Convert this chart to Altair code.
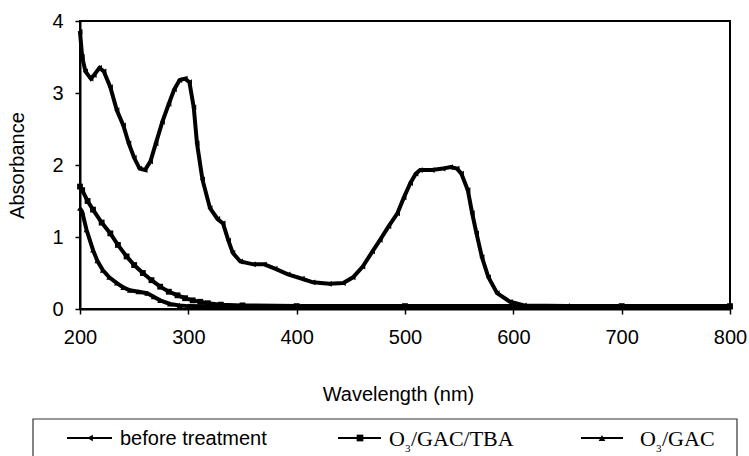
import altair as alt
import pandas as pd

# ---- data ----
wl_before = [200, 202, 205, 210, 213, 218, 222, 228, 234, 240, 245, 250, 255, 260, 265,
             270, 276, 282, 287, 292, 297, 301, 305, 308, 313, 320, 327, 332, 337, 341,
             348, 360, 370, 380, 392, 405, 415, 430, 443, 452, 461, 470, 477, 485, 493,
             499, 505, 510, 514, 525, 535, 542, 548, 552, 558, 562, 566, 571, 577, 585,
             597, 610, 650, 700, 750, 800]
abs_before = [3.85, 3.5, 3.3, 3.2, 3.25, 3.35, 3.3, 3.08, 2.76, 2.55, 2.3, 2.1, 1.95, 1.93, 2.05,
              2.3, 2.6, 2.85, 3.05, 3.18, 3.2, 3.15, 2.8, 2.3, 1.8, 1.4, 1.25, 1.19, 0.95, 0.78,
              0.66, 0.62, 0.62, 0.56, 0.48, 0.42, 0.37, 0.35, 0.36, 0.44, 0.59, 0.8, 0.96, 1.15, 1.33,
              1.55, 1.75, 1.88, 1.93, 1.93, 1.95, 1.97, 1.95, 1.88, 1.65, 1.33, 1.05, 0.72, 0.44, 0.22,
              0.1, 0.05, 0.04, 0.03, 0.03, 0.03]

wl_tba = [200, 202, 207, 212, 220, 228, 235, 243, 250, 258, 266, 274, 282, 290, 297, 304,
          311, 318, 330, 350, 400, 500, 600, 700, 800]
abs_tba = [1.7, 1.65, 1.5, 1.38, 1.2, 1.05, 0.89, 0.73, 0.61, 0.5, 0.4, 0.31, 0.24, 0.19, 0.15,
           0.12, 0.1, 0.08, 0.06, 0.05, 0.04, 0.04, 0.04, 0.04, 0.04]

wl_gac = [200, 202, 206, 212, 216, 221, 227, 234, 240, 246, 254, 262, 268, 274, 283, 292,
          300, 350, 400, 500, 600, 700, 800]
abs_gac = [1.4, 1.35, 1.1, 0.82, 0.67, 0.54, 0.44, 0.36, 0.3, 0.26, 0.24, 0.22, 0.17, 0.12,
           0.07, 0.05, 0.04, 0.03, 0.03, 0.03, 0.03, 0.03, 0.03]

series_names = ["before treatment", "O3/GAC/TBA", "O3/GAC"]
series_shapes = ["triangle-left", "square", "triangle-up"]
x_ticks = [200, 300, 400, 500, 600, 700, 800]
y_ticks = [0, 1, 2, 3, 4]

rows = []
for name, xs, ys in zip(series_names, [wl_before, wl_tba, wl_gac], [abs_before, abs_tba, abs_gac]):
    for xv, yv in zip(xs, ys):
        rows.append({"series": name, "wl": xv, "abs": yv})
df = pd.DataFrame(rows)

SANS = "Liberation Sans"
SERIF = "Liberation Serif"

x_enc = alt.X("wl:Q", scale=alt.Scale(domain=[200, 800], nice=False),
              axis=alt.Axis(values=x_ticks, format="d", title="Wavelength (nm)", grid=False,
                            tickSize=5, labelPadding=13, labelFlush=False, titleX=318, titleY=91,
                            titleBaseline="alphabetic"))
y_enc = alt.Y("abs:Q", scale=alt.Scale(domain=[0, 4], nice=False),
              axis=alt.Axis(values=y_ticks, format="d", title="Absorbance", grid=False,
                            tickSize=5, labelPadding=12, labelFlush=False, titleX=-53, titleY=144,
                            titleBaseline="bottom"))

lines = alt.Chart(df).mark_line(color="black", strokeWidth=4).encode(
    x=x_enc, y=y_enc, detail="series:N", order="wl:Q")
points = alt.Chart(df).mark_point(color="black", filled=True, size=34, opacity=1).encode(
    x="wl:Q", y="abs:Q",
    shape=alt.Shape("series:N", scale=alt.Scale(domain=series_names, range=series_shapes), legend=None))

# ---- custom legend below the plot ----
one = pd.DataFrame({"k": [0]})
base = alt.Chart(one)
leg_box = base.mark_rect(fill="white", stroke="#333333", strokeWidth=1.2).encode(
    x=alt.value(-47), x2=alt.value(657), y=alt.value(398), y2=alt.value(445))

leg_lines = []
for x1, x2, xm, shp in [(-13, 32, 10, "triangle-left"), (258, 301, 280, "square"), (501, 543, 522, "triangle-up")]:
    leg_lines.append(base.mark_rule(color="black", strokeWidth=2).encode(
        x=alt.value(x1), x2=alt.value(x2), y=alt.value(417)))
    leg_lines.append(base.mark_point(color="black", filled=True, opacity=1, shape=shp, size=45).encode(
        x=alt.value(xm), y=alt.value(417)))

t1 = base.mark_text(text="before treatment", font=SANS, fontSize=20, align="left",
                    baseline="alphabetic", color="black").encode(x=alt.value(40), y=alt.value(424))

def o3_label(x0, rest):
    o = base.mark_text(text="O", font=SERIF, fontSize=22, align="left", baseline="alphabetic",
                       color="black").encode(x=alt.value(x0), y=alt.value(425))
    sub = base.mark_text(text="3", font=SERIF, fontSize=11, align="left", baseline="alphabetic",
                         color="black").encode(x=alt.value(x0 + 16), y=alt.value(431))
    r = base.mark_text(text=rest, font=SERIF, fontSize=22, align="left", baseline="alphabetic",
                       color="black").encode(x=alt.value(x0 + 22), y=alt.value(425))
    return [o, sub, r]

t2 = o3_label(309, "/GAC/TBA")
t3 = o3_label(560, "/GAC")

chart = alt.layer(lines, points, leg_box, *leg_lines, t1, *t2, *t3).properties(
    width=650, height=288,
    padding={"left": 80, "top": 21, "right": 19, "bottom": 147},
    autosize=alt.AutoSizeParams(type="none"),
    background="white",
).configure_view(stroke="black", strokeWidth=2).configure_axis(
    labelFont=SANS, labelFontSize=20, labelColor="black",
    titleFont=SANS, titleFontSize=20, titleFontWeight="normal", titleColor="black",
    domainColor="black", domainWidth=2, tickColor="black", tickWidth=1.5,
)

chart.save("out.html", embed_options={"renderer": "svg", "actions": False})
